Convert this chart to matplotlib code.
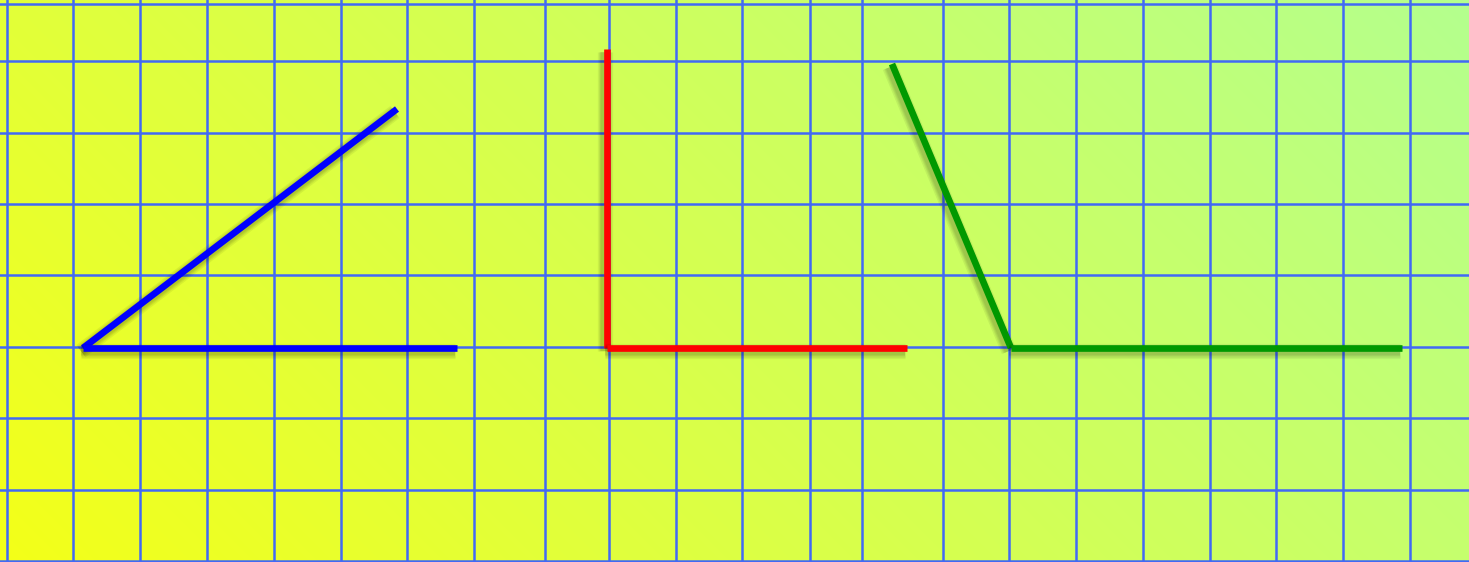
import numpy as np
import matplotlib
matplotlib.use("Agg")
import matplotlib.pyplot as plt
import matplotlib.patheffects as pe
from matplotlib.colors import LinearSegmentedColormap

W, H = 1469, 562

# grid line positions (pixel units, y grows downward)
grid_x = [7, 73, 140, 207, 274, 341, 407, 474, 545, 609, 676, 742, 810,
          862, 943, 1009, 1076, 1143, 1210, 1276, 1343, 1410]
grid_y = [4, 61, 133, 204, 275, 347, 418, 490, 561]

# angles: vertex, first arm end, second arm end
angle_names = ["acute", "right", "obtuse"]
vertex = [(83, 348), (607, 348), (1011, 348)]
arm1_end = [(397, 109), (607, 49), (892, 64)]
arm2_end = [(457, 348), (907, 348), (1402, 348)]
angle_colors = ["#0000ff", "#ff0000", "#009900"]

grad_start = (244 / 255, 1.0, 24 / 255)
grad_end = (180 / 255, 1.0, 142 / 255)

fig = plt.figure(figsize=(W / 100, H / 100), dpi=100)
ax = fig.add_axes([0, 0, 1, 1])
ax.set_xlim(0, W)
ax.set_ylim(H, 0)
ax.axis("off")

# diagonal background gradient (bottom-left -> top-right)
xx, yy = np.meshgrid(np.arange(W), np.arange(H))
t = (xx + (H - yy)) / (W + H)
cmap = LinearSegmentedColormap.from_list("bg", [grad_start, grad_end])
ax.imshow(t, cmap=cmap, extent=(0, W, H, 0), aspect="auto", zorder=0)

for gx in grid_x:
    ax.axvline(gx, color="#4169f5", lw=1.8, zorder=1)
for gy in grid_y:
    ax.axhline(gy, color="#4169f5", lw=1.8, zorder=1)

# soft shadow built from a few stacked offset strokes
shadow = [pe.SimpleLineShadow(offset=(-1.5, -2.2), shadow_color="k",
                              alpha=0.06, linewidth=w) for w in (11, 9, 7.5, 6)]
shadow.append(pe.Normal())

for v, a, b, c in zip(vertex, arm1_end, arm2_end, angle_colors):
    for end in (a, b):
        ax.plot([v[0], end[0]], [v[1], end[1]], color=c, lw=4.8,
                solid_capstyle="butt", zorder=3, path_effects=shadow)

fig.savefig("out.png", dpi=100)
